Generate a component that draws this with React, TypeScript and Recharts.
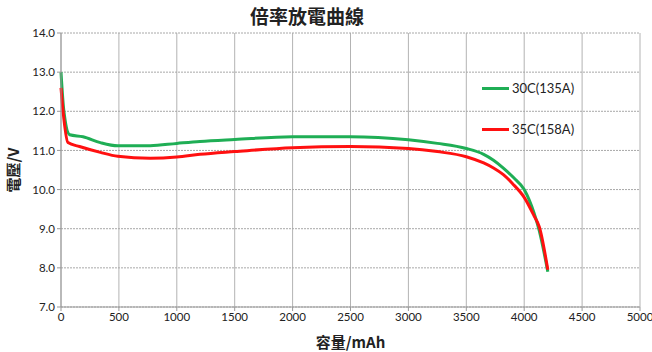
import { CartesianGrid, Line, LineChart, XAxis, YAxis } from 'recharts';

const xTicks = [0, 500, 1000, 1500, 2000, 2500, 3000, 3500, 4000, 4500, 5000];
const yTicks = [7, 8, 9, 10, 11, 12, 13, 14];

const capacity30C = [0, 25, 75, 190, 340, 490, 770, 1000, 1200, 1500, 2000, 2500, 3000, 3250, 3500, 3650, 3735, 3820, 3910, 4000, 4085, 4130, 4204];
const voltage30C = [13.0, 12.0, 11.4, 11.35, 11.2, 11.12, 11.12, 11.18, 11.23, 11.28, 11.35, 11.35, 11.27, 11.18, 11.05, 10.9, 10.75, 10.55, 10.3, 10.0, 9.4, 8.95, 7.9];

const capacity35C = [0, 25, 60, 160, 340, 490, 770, 1000, 1200, 1500, 2000, 2500, 3000, 3250, 3500, 3650, 3735, 3820, 3900, 4000, 4085, 4130, 4204];
const voltage35C = [12.6, 11.8, 11.2, 11.1, 10.95, 10.85, 10.8, 10.83, 10.9, 10.97, 11.07, 11.1, 11.05, 10.97, 10.84, 10.68, 10.55, 10.38, 10.15, 9.8, 9.33, 9.05, 7.95];

const series = [
  { name: '30C(135A)', color: '#1fae55', xs: capacity30C, ys: voltage30C },
  { name: '35C(158A)', color: '#ff1010', xs: capacity35C, ys: voltage35C },
];

const toPoints = (xs: number[], ys: number[]) => xs.map((x, i) => ({ x, v: ys[i] }));

const font = "'Lato', 'Noto Sans CJK TC', sans-serif";
const cjk = "'Noto Sans CJK TC', sans-serif";
const tickStyle = { fontSize: 11.5, fill: '#222', fontFamily: font };

export default function App() {
  return (
    <div style={{ position: 'fixed', left: 0, top: 0, width: 652, height: 352, background: '#fff' }}>
      <div
        style={{
          position: 'absolute',
          left: 0,
          width: 614,
          top: 2,
          textAlign: 'center',
          fontFamily: cjk,
          fontWeight: 700,
          fontSize: 19,
          color: '#222',
        }}
      >
        倍率放電曲線
      </div>
      <LineChart width={652} height={352} margin={{ top: 33, right: 12, left: 0, bottom: 0 }}>
        <CartesianGrid horizontal={false} stroke="#b3b3b3" />
        <CartesianGrid vertical={false} stroke="#a8a8a8" strokeDasharray="2 1" />
        <XAxis
          type="number"
          dataKey="x"
          domain={[0, 5000]}
          ticks={xTicks}
          allowDuplicatedCategory={false}
          height={45}
          tick={tickStyle}
          tickSize={4}
          stroke="#999"
          label={{
            value: '容量/mAh',
            position: 'insideBottom',
            offset: 4,
            style: { fontFamily: cjk, fontWeight: 700, fontSize: 15, fill: '#222' },
          }}
        />
        <YAxis
          type="number"
          domain={[7, 14]}
          ticks={yTicks}
          width={61}
          tick={tickStyle}
          tickSize={4}
          stroke="#999"
          tickFormatter={(v: number) => v.toFixed(1)}
          label={{
            value: '電壓/V',
            angle: -90,
            position: 'insideLeft',
            offset: 14,
            style: { fontFamily: cjk, fontWeight: 700, fontSize: 15, fill: '#222', textAnchor: 'middle' },
          }}
        />
        {series.map((s) => (
          <Line
            key={s.name}
            data={toPoints(s.xs, s.ys)}
            dataKey="v"
            name={s.name}
            type="monotone"
            stroke={s.color}
            strokeWidth={3}
            dot={false}
            isAnimationActive={false}
          />
        ))}
      </LineChart>
      <div style={{ position: 'absolute', left: 482, top: 78, fontFamily: font, fontSize: 13, color: '#222' }}>
        {series.map((s) => (
          <div key={s.name} style={{ display: 'flex', alignItems: 'center', height: 20, marginBottom: 21 }}>
            <span style={{ display: 'inline-block', width: 27, height: 3, background: s.color, marginRight: 3 }} />
            {s.name}
          </div>
        ))}
      </div>
    </div>
  );
}
